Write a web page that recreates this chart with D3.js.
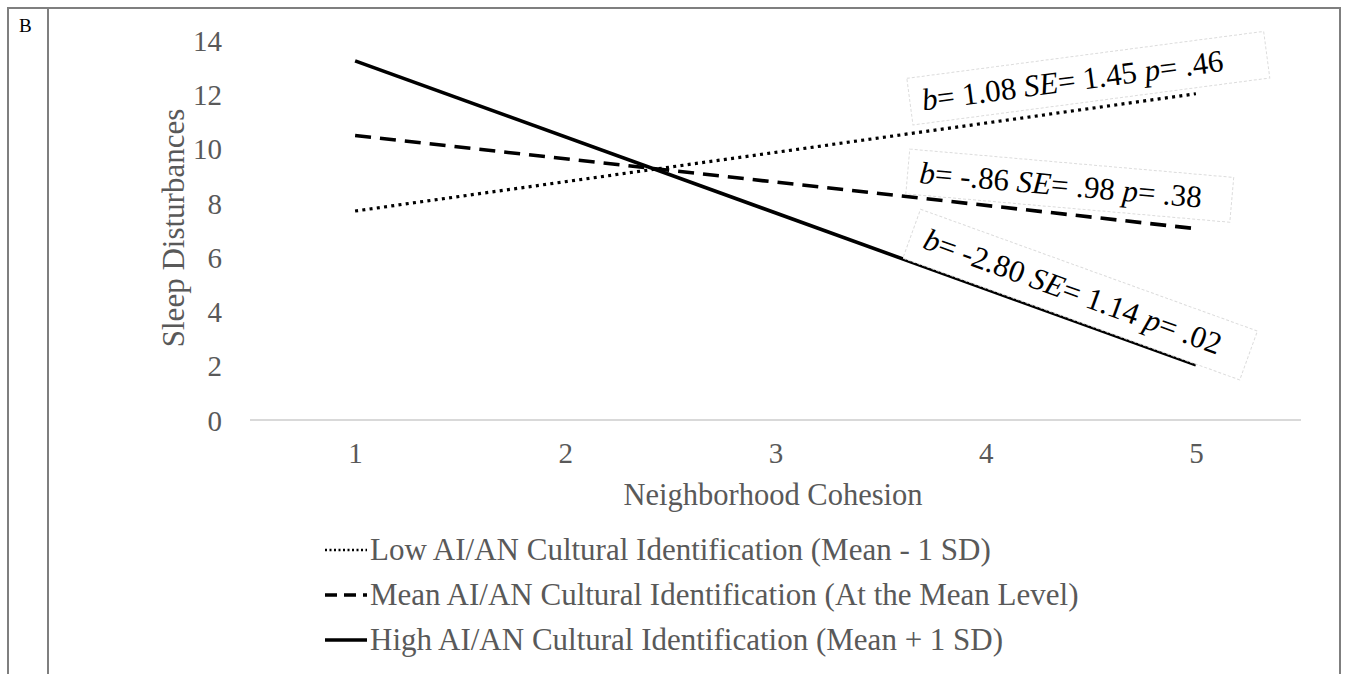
<!DOCTYPE html>
<html>
<head>
<meta charset="utf-8">
<script src="https://cdn.jsdelivr.net/npm/d3@7/dist/d3.min.js"></script>
<style>
  html, body { margin: 0; padding: 0; background: #fff; }
  svg { display: block; }
  text { font-family: "Liberation Serif", "Times New Roman", serif; }
</style>
</head>
<body>
<svg id="chart" width="1347" height="674"></svg>
<script>
// Simple-slopes data: sleep disturbances across neighborhood cohesion
const categories = [1, 2, 3, 4, 5];
const yTicks = [0, 2, 4, 6, 8, 10, 12, 14];
const seriesX = [1, 5];
const lowValues = [7.70, 12.02];
const meanValues = [10.48, 7.05];
const highValues = [13.23, 2.03];
const seriesNames = [
  "Low AI/AN Cultural Identification (Mean - 1 SD)",
  "Mean AI/AN Cultural Identification (At the Mean Level)",
  "High AI/AN Cultural Identification (Mean + 1 SD)"
];
const slopeLabels = [
  "b= 1.08 SE= 1.45 p= .46",
  "b= -.86 SE= .98 p= .38",
  "b= -2.80 SE= 1.14 p= .02"
];

const svg = d3.select("#chart");
const grey = "#595959";

// panel frame
svg.append("path")
  .attr("d", "M8,674 V8 H1340 V674")
  .attr("fill", "none").attr("stroke", "#7f7f7f").attr("stroke-width", 2);
svg.append("line").attr("x1", 48).attr("x2", 48).attr("y1", 8).attr("y2", 674)
  .attr("stroke", "#7f7f7f").attr("stroke-width", 2);
svg.append("text").attr("x", 19).attr("y", 32).attr("font-size", 19)
  .attr("fill", "#000").text("B");

// scales
const x = d3.scalePoint().domain(categories).range([250, 1301]).padding(0.5);
const y = d3.scaleLinear().domain([0, 14]).range([420, 40]);
const xc = c => x(1) + (c - 1) * (x(2) - x(1));   // continuous position along the category axis

// zero baseline
svg.append("line").attr("x1", 250).attr("x2", 1301)
  .attr("y1", y(0)).attr("y2", y(0))
  .attr("stroke", "#d9d9d9").attr("stroke-width", 2);

// y axis
const yAxis = svg.append("g").attr("transform", "translate(232,0)")
  .call(d3.axisLeft(y).tickValues(yTicks).tickSize(0).tickPadding(10));
yAxis.select(".domain").remove();
yAxis.selectAll("text").attr("font-size", 29).attr("fill", grey)
  .attr("font-family", "Liberation Serif").attr("dy", "0.35em");

// x axis
const xAxis = svg.append("g").attr("transform", "translate(0,435)")
  .call(d3.axisBottom(x).tickSize(0).tickPadding(0));
xAxis.select(".domain").remove();
xAxis.selectAll("text").attr("font-size", 29).attr("fill", grey)
  .attr("font-family", "Liberation Serif").attr("dy", "0.95em");

// axis titles
svg.append("text").attr("x", 773).attr("y", 505).attr("text-anchor", "middle")
  .attr("font-size", 30.5).attr("fill", grey).text("Neighborhood Cohesion");
svg.append("text").attr("transform", "translate(184,228) rotate(-90)")
  .attr("text-anchor", "middle").attr("font-size", 31).attr("fill", grey)
  .text("Sleep Disturbances");

// line styles
const styles = [
  { dash: "3,4.3", width: 3.2, legendDash: "2,2.5", legendWidth: 2.4 },
  { dash: "16,9", width: 3.6, legendDash: "12,7", legendWidth: 3.6 },
  { dash: null, width: 3.6, legendDash: null, legendWidth: 3.6 }
];
const series = [lowValues, meanValues, highValues];

const line = d3.line().x(d => x(d[0])).y(d => y(d[1]));
series.forEach((vals, i) => {
  const pts = seriesX.map((c, j) => [c, vals[j]]);
  svg.append("path").datum(pts).attr("d", line)
    .attr("fill", "none").attr("stroke", "#000")
    .attr("stroke-width", styles[i].width)
    .attr("stroke-dasharray", styles[i].dash);
});

// angle of the high-identification line, used for its label box
const highAngle = Math.atan2(y(highValues[1]) - y(highValues[0]), x(5) - x(1)) * 180 / Math.PI;
const highAt = c => highValues[0] + (highValues[1] - highValues[0]) * (c - 1) / 4;

// slope annotations: each box is placed by its bottom-left corner
const annot = [
  { cx: 3.654, cy: 10.87, angle: -7.5, padL: 12, padR: 44, padT: 6, padB: 6 },
  { cx: 3.62, cy: 8.33, angle: 5.0, padL: 12, padR: 30, padT: 5, padB: 5 },
  { cx: 3.606, cy: highAt(3.606) + 0.03, angle: highAngle, padL: 14, padR: 30, padT: 8, padB: 9 }
];
slopeLabels.forEach((lab, i) => {
  const a = annot[i];
  const g = svg.append("g")
    .attr("transform", `translate(${xc(a.cx)},${y(a.cy)}) rotate(${a.angle})`);
  const inner = g.append("g");
  const rect = inner.append("rect");
  const t = inner.append("text").attr("font-size", 31).attr("fill", "#000")
    .style("white-space", "pre");
  lab.split(/(b(?==)|SE(?==)|p(?==))/).filter(s => s.length).forEach(s => {
    t.append("tspan").attr("font-style", /^(b|SE|p)$/.test(s) ? "italic" : null).text(s);
  });
  const bb = t.node().getBBox();
  const rx = bb.x - a.padL, ry = bb.y - a.padT;
  const rw = bb.width + a.padL + a.padR, rh = bb.height + a.padT + a.padB;
  rect.attr("x", rx).attr("y", ry).attr("width", rw).attr("height", rh)
    .attr("fill", "#fff")
    .attr("stroke", "#dcdcdc").attr("stroke-width", 1).attr("stroke-dasharray", "3,2");
  inner.attr("transform", `translate(${-rx},${-(ry + rh)})`);
});

// legend
const legend = svg.append("g");
seriesNames.forEach((name, i) => {
  const cy = 550 + i * 45;
  legend.append("line").attr("x1", 325).attr("x2", 367).attr("y1", cy).attr("y2", cy)
    .attr("stroke", "#000").attr("stroke-width", styles[i].legendWidth)
    .attr("stroke-dasharray", styles[i].legendDash);
  legend.append("text").attr("x", 370).attr("y", cy + 10)
    .attr("font-size", 31).attr("fill", grey).text(name);
});
</script>
</body>
</html>
